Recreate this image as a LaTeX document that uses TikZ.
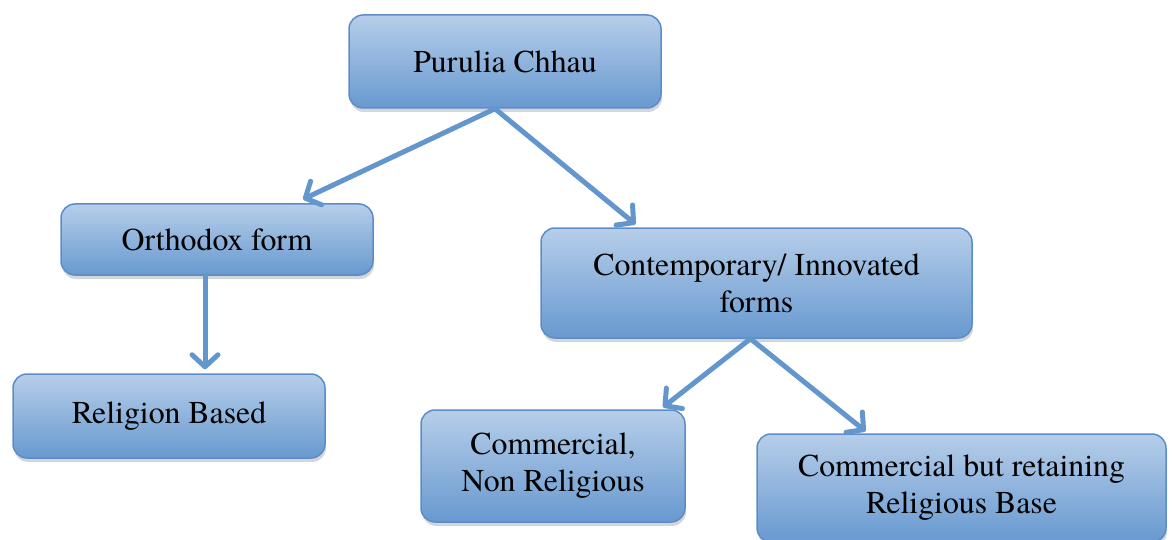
\documentclass[tikz,border=0pt]{standalone}
\usepackage{fontspec}
\setmainfont{texgyretermes}[Extension=.otf, UprightFont=*-regular, BoldFont=*-bold]
\usetikzlibrary{arrows.meta,shadows}

\begin{document}
\begin{tikzpicture}[x=1pt,y=-1pt]


% Couleurs des boites et des fleches
\definecolor{boxTop}{RGB}{182,206,233}
\definecolor{boxBottom}{RGB}{104,153,208}
\definecolor{boxBorder}{RGB}{92,141,200}
\definecolor{arrowCol}{RGB}{98,150,205}
\definecolor{shadowCol}{RGB}{212,214,218}

\tikzset{
  boite/.style={draw=boxBorder, line width=1.5pt, rounded corners=14pt,
    top color=boxTop, bottom color=boxBottom, align=center, inner sep=0pt,
    font=\fontsize{31.8}{37}\selectfont,
    drop shadow={fill=shadowCol, opacity=1, shadow xshift=1pt, shadow yshift=-4pt}},
  fleche/.style={draw=arrowCol, line width=5pt, line cap=round,
    -{Straight Barb[length=12pt,width=26pt,round]}}
}

\useasboundingbox (0,0) rectangle (1172,540);

% Boites
\node[boite, minimum width=312pt, minimum height=93pt] (racine) at (505,61.5) {Purulia Chhau};
\node[boite, minimum width=312pt, minimum height=71pt] (ortho) at (217,239.5) {Orthodox form};
\node[boite, minimum width=431pt, minimum height=110pt] (contemp) at (756.5,283) {Contemporary/ Innovated\\forms};
\node[boite, minimum width=312pt, minimum height=84pt] (religion) at (169,416) {Religion Based};
\node[boite, minimum width=264pt, minimum height=112pt] (commerce) at (553,466) {Commercial,\\Non Religious};
\node[boite, minimum width=409pt, minimum height=108pt] (retenue) at (961.5,488) {Commercial but retaining\\Religious Base};

% Fleches
\draw[fleche] ([xshift=-10pt]racine.south) -- ([xshift=86pt,yshift=4pt]ortho.north);
\draw[fleche] ([xshift=-10pt]racine.south) -- ([xshift=-121pt,yshift=3pt]contemp.north);
\draw[fleche] ([xshift=-12pt]ortho.south) -- ([xshift=36pt,yshift=4pt]religion.north);
\draw[fleche] ([xshift=-6pt]contemp.south) -- ([xshift=110pt,yshift=2pt]commerce.north);
\draw[fleche] ([xshift=-6pt]contemp.south) -- ([xshift=-96pt,yshift=2pt]retenue.north);


\end{tikzpicture}
\end{document}
